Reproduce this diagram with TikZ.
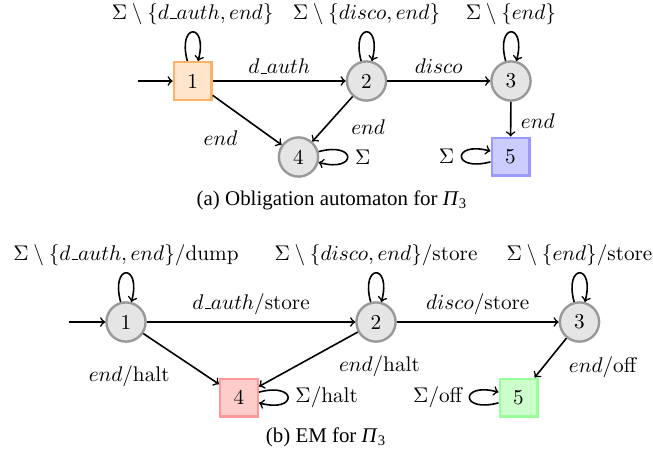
\documentclass[tikz,border=0pt]{standalone}
\usepackage{fix-cm}
\usepackage{fontspec}
\newfontfamily\capfont{Liberation Serif}
\newcommand{\usc}{\kern.06em\vbox{\hrule width.3em height .5pt}}
\tikzset{
  circst/.style={circle, draw=gray!80, fill=gray!20, line width=1.2pt, minimum size=19.6pt, inner sep=0pt},
  sqst/.style={rectangle, line width=1.2pt, minimum size=18.8pt, inner sep=0pt},
  conn/.style={->, thick},
  bigloop/.style={min distance=20pt},
  captext/.style={font=\fontsize{10.45}{12.5}\selectfont\capfont}
}
\begin{document}
\begin{tikzpicture}[x=0.5pt,y=-0.5pt, every node/.append style={font=\fontsize{10.6}{12.7}\selectfont}]
\useasboundingbox (0,0) rectangle (653,456);
% ---- (a) ----
\node[sqst, draw=orange!60, fill=orange!20] (a1) at (192.7,81) {1};
\node[circst] (a2) at (366.5,81) {2};
\node[circst] (a3) at (511,81) {3};
\node[circst] (a4) at (298.5,157) {4};
\node[sqst, draw=blue!40, fill=blue!20] (a5) at (510.5,156.5) {5};
\coordinate (sa) at (138,81);
\draw[conn] (sa) -- (a1);
\draw[conn] (a1) -- node[above] {$d\usc auth$} (a2);
\draw[conn] (a2) -- node[above] {$disco$} (a3);
\draw[conn] (a1) -- node[midway, xshift=-13.3pt, yshift=-9pt] {$end$} (a4);
\draw[conn] (a2) -- node[midway, xshift=17.8pt, yshift=-4pt] {$end$} (a4);
\draw[conn] (a3) -- node[midway, xshift=13.5pt, yshift=-1pt] {$end$} (a5);
\draw[conn] (a1) to[loop above, bigloop] node[above] {$\Sigma\setminus\{d\usc auth, end\}$} (a1);
\draw[conn] (a2) to[loop above, bigloop] node[above] {$\Sigma\setminus\{disco, end\}$} (a2);
\draw[conn] (a3) to[loop above, bigloop] node[above] {$\Sigma\setminus\{end\}$} (a3);
\draw[conn] (a4) to[loop right, bigloop] node[right] {$\Sigma$} (a4);
\draw[conn] (a5) to[loop left, bigloop] node[left] {$\Sigma$} (a5);
\node[captext] (capa) at (332,200) {(a) Obligation automaton for \textit{Π}\textsubscript{3}};
% ---- (b) ----
\node[circst] (b1) at (126,322) {1};
\node[circst] (b2) at (376,322) {2};
\node[circst] (b3) at (579.5,322) {3};
\node[sqst, draw=red!40, fill=red!20] (b4) at (239,397.5) {4};
\node[sqst, draw=green!40, fill=green!20] (b5) at (518.5,397.5) {5};
\coordinate (sb) at (69,322);
\draw[conn] (sb) -- (b1);
\draw[conn] (b1) -- node[above] {$d\usc auth$/store} (b2);
\draw[conn] (b2) -- node[above] {$disco$/store} (b3);
\draw[conn] (b1) -- node[midway, xshift=-26pt, yshift=-8.5pt] {$end$/halt} (b4);
\draw[conn] (b2) -- node[midway, xshift=35.5pt, yshift=-3.5pt] {$end$/halt} (b4);
\draw[conn] (b3) -- node[midway, xshift=26pt, yshift=-4.5pt] {$end$/off} (b5);
\draw[conn] (b1) to[loop above, bigloop] node[above] {$\Sigma\setminus\{d\usc auth, end\}$/dump} (b1);
\draw[conn] (b2) to[loop above, bigloop] node[above] {$\Sigma\setminus\{disco, end\}$/store} (b2);
\draw[conn] (b3) to[loop above, bigloop] node[above] {$\Sigma\setminus\{end\}$/store} (b3);
\draw[conn] (b4) to[loop right, bigloop] node[right] {$\Sigma$/halt} (b4);
\draw[conn] (b5) to[loop left, bigloop] node[left] {$\Sigma$/off} (b5);
\node[captext] (capb) at (326,437) {(b) EM for \textit{Π}\textsubscript{3}};
\end{tikzpicture}
\end{document}
